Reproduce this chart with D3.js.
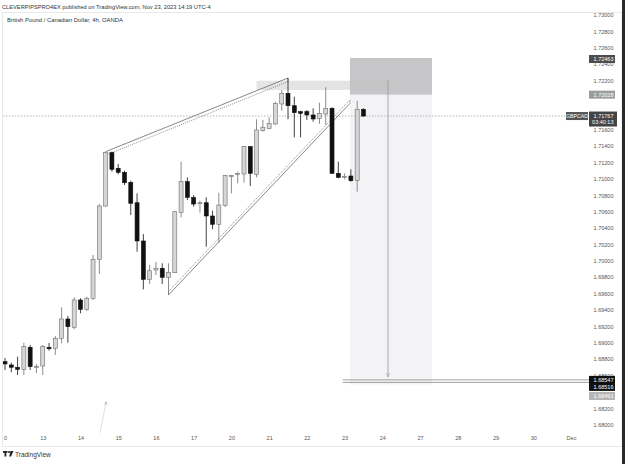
<!DOCTYPE html>
<html>
<head>
<meta charset="utf-8">
<script src="https://cdn.jsdelivr.net/npm/d3@7"></script>
<style>
  body { margin: 0; background: #fff; }
  svg { display: block; font-family: "Liberation Sans", Arial, sans-serif; }
</style>
</head>
<body>
<div id="chart"></div>
<script>
// GBPCAD 4h candles, Nov 10 -> Nov 23 (index = bar number)
const opens = [1.68769,1.68729,1.68701,1.68676,1.68945,1.68698,1.68716,1.68945,1.68932,1.69054,
  1.69290,1.69189,1.69522,1.69408,1.69543,1.70019,1.70669,1.71320,1.71129,1.71080,
  1.70958,1.70709,1.70242,1.69774,1.69888,1.69909,1.69799,1.69855,1.70592,1.70966,
  1.70773,1.70702,1.70709,1.70547,1.70446,1.70673,1.71035,1.71060,1.71060,1.71393,
  1.71056,1.71588,1.71617,1.71670,1.71914,1.72044,1.71893,1.71820,1.71820,1.71780,
  1.71739,1.71792,1.71861,1.71068,1.71023,1.71035,1.70978,1.71849];
const highs = [1.68814,1.68757,1.68830,1.69001,1.68973,1.68741,1.68973,1.68997,1.69083,1.69433,
  1.69327,1.69555,1.69543,1.69562,1.70071,1.70693,1.71332,1.71332,1.71182,1.71100,
  1.70978,1.70824,1.70327,1.69949,1.69989,1.69970,1.69970,1.70608,1.71210,1.71019,
  1.70803,1.70734,1.70775,1.70612,1.70831,1.71047,1.71047,1.71088,1.71401,1.71401,
  1.71727,1.71719,1.71752,1.71942,1.72085,1.72231,1.72003,1.71832,1.71841,1.71861,
  1.71930,1.72118,1.71874,1.71210,1.71068,1.71117,1.71954,1.71861];
const lows = [1.68668,1.68640,1.68607,1.68607,1.68668,1.68631,1.68607,1.68903,1.68851,1.68993,
  1.69001,1.69164,1.69360,1.69391,1.69522,1.69839,1.70661,1.71088,1.71056,1.70925,
  1.70559,1.70111,1.69652,1.69717,1.69827,1.69717,1.69583,1.69851,1.70531,1.70742,
  1.70661,1.70587,1.70172,1.70385,1.70221,1.70657,1.70824,1.70946,1.70953,1.70913,
  1.71019,1.71576,1.71605,1.71658,1.71832,1.71727,1.71507,1.71507,1.71719,1.71698,
  1.71670,1.71658,1.71060,1.71007,1.70995,1.70966,1.70844,1.71760];
const closes = [1.68741,1.68701,1.68676,1.68952,1.68708,1.68708,1.68952,1.68927,1.69054,1.69290,
  1.69196,1.69522,1.69408,1.69543,1.70019,1.70669,1.71320,1.71117,1.71080,1.70953,
  1.70702,1.70242,1.69774,1.69879,1.69909,1.69799,1.69860,1.70599,1.70966,1.70775,
  1.70693,1.70709,1.70547,1.70446,1.70681,1.71039,1.71039,1.71068,1.71393,1.71068,
  1.71597,1.71630,1.71678,1.71922,1.72044,1.71893,1.71808,1.71800,1.71780,1.71731,
  1.71800,1.71861,1.71068,1.71019,1.71031,1.70978,1.71849,1.71767];

// time axis (bar index of each day start) and price axis
const dayIdx = [0, 6, 12, 18, 24, 30, 36, 42, 48, 54, 60, 66, 72, 78, 84, 90];
const dayLabels = ['0', '13', '14', '15', '16', '17', '20', '21', '22', '23', '24', '27', '28', '29', '30', 'Dec'];
const priceTicks = [1.68000, 1.68200, 1.68400, 1.68600, 1.68800, 1.69000, 1.69200, 1.69400, 1.69600,
  1.69800, 1.70000, 1.70200, 1.70400, 1.70600, 1.70800, 1.71000, 1.71200, 1.71400, 1.71600,
  1.71800, 1.72000, 1.72200, 1.72400, 1.72600, 1.72800, 1.73000];

// drawings (bar index, price)
const wedgeTop = [[16, 1.71332], [45, 1.72231]];
const wedgeBottom = [[26, 1.69583], [54.85, 1.71922]];
const zoneIdx = [40, 60.9];
const zonePrices = [1.72198, 1.72085];
const shortIdx = [54.85, 67.9];
const shortEntry = 1.72028, shortStop = 1.72463, shortTarget = 1.68491;
const arrowIdx = 60.9, arrowPrices = [1.72207, 1.68582];
const hLinePrices = [1.68547, 1.68516];
const hLineStart = 53.7;
const faintArrow = [[15.1, 1.67902], [16.1, 1.68281]];
const lastPrice = 1.71767;
const countdown = '03:40:13';

const width = 625;
const height = 464;

const svg = d3.select('#chart')
  .append('svg')
    .attr('width', width)
    .attr('height', height);

const x = d3.scaleLinear().domain([0, 90]).range([5, 571]);
const y = d3.scaleLinear().domain([1.68, 1.73]).range([424.7, 15]);

svg.append('defs').append('clipPath')
    .attr('id', 'plot')
  .append('rect')
    .attr('x', 3).attr('y', 13).attr('width', 619).attr('height', 420);

// header
svg.append('text')
  .attr('x', 2).attr('y', 9)
  .attr('font-size', 5.7).attr('fill', '#333')
  .text('CLEVERPIPSPRO4EX published on TradingView.com, Nov 23, 2023 14:19 UTC-4');
svg.append('rect')
  .attr('x', 2.5).attr('y', 12.5).attr('width', 619.5).attr('height', 434)
  .attr('fill', 'none').attr('stroke', '#e8e8e8');
svg.append('text')
  .attr('x', 7).attr('y', 22)
  .attr('font-size', 5.9).attr('fill', '#333')
  .text('British Pound / Canadian Dollar, 4h, OANDA');

const plot = svg.append('g').attr('clip-path', 'url(#plot)');

// short position boxes
plot.append('rect')
  .attr('x', x(shortIdx[0])).attr('width', x(shortIdx[1]) - x(shortIdx[0]))
  .attr('y', y(shortEntry)).attr('height', y(shortTarget) - y(shortEntry))
  .attr('fill', '#f3f3f5');
plot.append('rect')
  .attr('x', x(shortIdx[0])).attr('width', x(shortIdx[1]) - x(shortIdx[0]))
  .attr('y', y(shortStop) - 1).attr('height', y(shortEntry) - y(shortStop) + 1)
  .attr('fill', '#c6c6c9');

// supply zone
plot.append('rect')
  .attr('x', x(zoneIdx[0])).attr('width', x(zoneIdx[1]) - x(zoneIdx[0]))
  .attr('y', y(zonePrices[0])).attr('height', y(zonePrices[1]) - y(zonePrices[0]))
  .attr('fill', '#c4c4c4').attr('opacity', 0.45);

// last price line
plot.append('line')
  .attr('x1', 3).attr('x2', 566)
  .attr('y1', y(lastPrice)).attr('y2', y(lastPrice))
  .attr('stroke', '#9a9a9a').attr('stroke-width', 0.7)
  .attr('stroke-dasharray', '1.5,1.5');

// target lines
hLinePrices.forEach(p => {
  plot.append('line')
    .attr('x1', x(hLineStart)).attr('x2', 590)
    .attr('y1', y(p)).attr('y2', y(p))
    .attr('stroke', '#8a8a8a').attr('stroke-width', 0.8);
});

// wedge channels: solid edge plus dotted twin
function channel(pts, off) {
  const p = pts.map(d => [x(d[0]), y(d[1])]);
  const g = plot.append('g').attr('fill', 'none');
  g.append('line')
    .attr('x1', p[0][0]).attr('y1', p[0][1]).attr('x2', p[1][0]).attr('y2', p[1][1])
    .attr('stroke', '#6a6a6a').attr('stroke-width', 0.8);
  g.append('line')
    .attr('x1', p[0][0]).attr('y1', p[0][1] + off).attr('x2', p[1][0]).attr('y2', p[1][1] + off)
    .attr('stroke', '#6a6a6a').attr('stroke-width', 0.8).attr('stroke-dasharray', '1,1.2');
  [0, 1].forEach(k => {
    g.append('line')
      .attr('x1', p[k][0]).attr('y1', p[k][1]).attr('x2', p[k][0]).attr('y2', p[k][1] + off)
      .attr('stroke', '#8a8a8a').attr('stroke-width', 0.6);
  });
}
channel(wedgeTop, 3.5);
channel(wedgeBottom, -3.5);

// arrows
const defs = svg.select('defs');
defs.append('marker')
    .attr('id', 'head').attr('viewBox', '0 0 10 10')
    .attr('refX', 9).attr('refY', 5)
    .attr('markerWidth', 5).attr('markerHeight', 5)
    .attr('orient', 'auto')
  .append('path')
    .attr('d', 'M0,1 L9,5 L0,9').attr('fill', 'none')
    .attr('stroke', '#999').attr('stroke-width', 1.2);
plot.append('line')
  .attr('x1', x(arrowIdx)).attr('x2', x(arrowIdx))
  .attr('y1', y(arrowPrices[0])).attr('y2', y(arrowPrices[1]))
  .attr('stroke', '#a0a0a0').attr('stroke-width', 0.9)
  .attr('marker-end', 'url(#head)');
svg.append('line')
  .attr('x1', x(faintArrow[0][0])).attr('y1', y(faintArrow[0][1]))
  .attr('x2', x(faintArrow[1][0])).attr('y2', y(faintArrow[1][1]))
  .attr('stroke', '#d4d4d4').attr('stroke-width', 0.8)
  .attr('marker-end', 'url(#head)');

// candles
const bars = d3.range(opens.length).map(i => ({
  i: i, o: opens[i], h: highs[i], l: lows[i], c: closes[i]
}));
const bw = 4;
const candle = plot.selectAll('g.candle')
  .data(bars)
  .enter()
  .append('g')
    .attr('class', 'candle');
candle.append('line')
  .attr('x1', d => x(d.i)).attr('x2', d => x(d.i))
  .attr('y1', d => y(d.h)).attr('y2', d => y(d.l))
  .attr('stroke', d => d.c >= d.o ? '#6e6e6e' : '#111')
  .attr('stroke-width', 0.8);
candle.append('rect')
  .attr('x', d => x(d.i) - bw / 2)
  .attr('width', bw)
  .attr('y', d => y(Math.max(d.o, d.c)))
  .attr('height', d => Math.max(1, Math.abs(y(d.o) - y(d.c))))
  .attr('fill', d => d.c >= d.o ? '#d6d6d8' : '#111')
  .attr('stroke', d => d.c >= d.o ? '#6e6e6e' : '#111')
  .attr('stroke-width', 0.6);

// price labels sitting on the axis
const fmt = d3.format('.5f');
const axisLabels = [
  { p: shortStop, cy: y(shortStop), bg: '#4d4d4d' },
  { p: shortEntry, cy: y(shortEntry), bg: '#9c9c9c' },
  { p: hLinePrices[0], cy: y(hLinePrices[0]), bg: '#111' },
  { p: hLinePrices[1], cy: y(hLinePrices[1]) + 4.5, bg: '#111' },
  { p: shortTarget, cy: y(shortTarget) + 11.5, bg: '#b4b4b4' }
];

// price axis; ticks fully covered by a label badge are not shown
const covered = t => axisLabels.some(d => Math.abs(y(t) - d.cy) < 4.3) ||
  Math.abs(y(t) - y(lastPrice) - 3) < 4;
const yAxis = svg.append('g')
  .attr('transform', 'translate(613.5,0)')
  .call(d3.axisLeft(y).tickValues(priceTicks.filter(t => !covered(t)))
    .tickFormat(fmt).tickSize(0).tickPadding(0));
yAxis.select('.domain').remove();
yAxis.selectAll('text')
  .attr('font-family', '"Liberation Sans", Arial, sans-serif')
  .attr('font-size', 5.5).attr('fill', '#555');

// time axis
const xAxis = svg.append('g')
  .attr('transform', 'translate(0,436.5)')
  .call(d3.axisBottom(x).tickValues(dayIdx).tickFormat((d, i) => dayLabels[i]).tickSize(0).tickPadding(0));
xAxis.select('.domain').remove();
xAxis.selectAll('text')
  .attr('font-family', '"Liberation Sans", Arial, sans-serif')
  .attr('font-size', 5.5).attr('fill', '#555');

axisLabels.forEach(d => {
  svg.append('rect')
    .attr('x', 589).attr('y', d.cy - 4).attr('width', 26).attr('height', 8)
    .attr('fill', d.bg);
  svg.append('text')
    .attr('x', 613.5).attr('y', d.cy + 2)
    .attr('text-anchor', 'end').attr('font-size', 5.5).attr('fill', '#fff')
    .text(fmt(d.p));
});
svg.append('rect')
  .attr('x', 589).attr('y', y(lastPrice) - 4.5).attr('width', 28).attr('height', 15)
  .attr('fill', '#444');
svg.append('text')
  .attr('x', 613.5).attr('y', y(lastPrice) + 1.8)
  .attr('text-anchor', 'end').attr('font-size', 5.5).attr('fill', '#fff')
  .text(fmt(lastPrice));
svg.append('text')
  .attr('x', 613.5).attr('y', y(lastPrice) + 8.3)
  .attr('text-anchor', 'end').attr('font-size', 5.5).attr('fill', '#fff')
  .text(countdown);
svg.append('rect')
  .attr('x', 566).attr('y', y(lastPrice) - 4).attr('width', 22).attr('height', 8)
  .attr('fill', '#555');
svg.append('text')
  .attr('x', 577).attr('y', y(lastPrice) + 2)
  .attr('text-anchor', 'middle').attr('font-size', 5.2).attr('fill', '#fff')
  .text('GBPCAD');

// footer
const logo = svg.append('g').attr('transform', 'translate(3,451)').attr('fill', '#222');
logo.append('rect').attr('x', 0).attr('y', 0).attr('width', 4.5).attr('height', 1.8);
logo.append('rect').attr('x', 1.5).attr('y', 0).attr('width', 1.8).attr('height', 5.5);
logo.append('circle').attr('cx', 6).attr('cy', 1).attr('r', 1);
logo.append('path').attr('d', 'M7.5,0 L10.5,0 L8,5.5 L6.2,5.5 Z');
svg.append('text')
  .attr('x', 15).attr('y', 457)
  .attr('font-size', 6.5).attr('fill', '#333')
  .text('TradingView');

// dark edge of the screenshot
svg.append('rect')
  .attr('x', 622).attr('y', 0).attr('width', 3).attr('height', height)
  .attr('fill', '#2b2b2b');
</script>
</body>
</html>
